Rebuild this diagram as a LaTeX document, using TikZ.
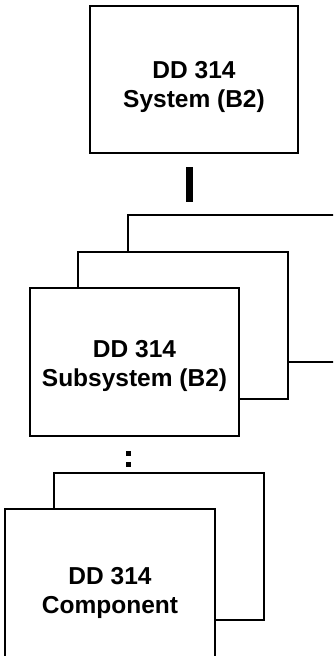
\documentclass[tikz,border=0pt]{standalone}
\usepackage{fontspec}
\setmainfont{Liberation Sans}
\begin{document}
\begin{tikzpicture}[x=1pt,y=-1pt,
  box/.style={draw=black,fill=white,line width=1.6pt,inner sep=0pt,minimum width=#1},
  box/.default=210pt,
  lbl/.style={inner sep=0pt,align=center,font=\bfseries\fontsize{24.5}{29}\selectfont}]
\useasboundingbox (0,0) rectangle (333,656);
\clip (0,0) rectangle (333,656);
% top
\node[box=208pt,minimum height=147pt] (sys) at (194,79.5) {};
\node[lbl] (systxt) at (194,86.5) {DD 314\\System (B2)};
% subsystem stack
\node[box=217pt,minimum height=147pt] (sub3) at (236.5,288.5) {};
\node[box=210pt,minimum height=147pt] (sub2) at (183,325.5) {};
\node[box=209pt,minimum height=148pt] (sub1) at (134.5,362) {};
\node[lbl] (subtxt) at (134.5,366) {DD 314\\Subsystem (B2)};
% component stack
\node[box=210pt,minimum height=147pt] (comp2) at (159,546.5) {};
\node[box=210pt,minimum height=161pt] (comp1) at (110,589.5) {};
\node[lbl] (comptxt) at (110,593) {DD 314\\Component};
% connector bar
\coordinate (barT) at (189.5,167);
\coordinate (barB) at (189.5,202);
\draw[line width=7pt] (barT) -- (barB);
% colon
\node[fill=black,minimum size=5pt,inner sep=0pt] (dot1) at (128.5,453) {};
\node[fill=black,minimum size=5pt,inner sep=0pt] (dot2) at (128.5,464) {};
\end{tikzpicture}
\end{document}
